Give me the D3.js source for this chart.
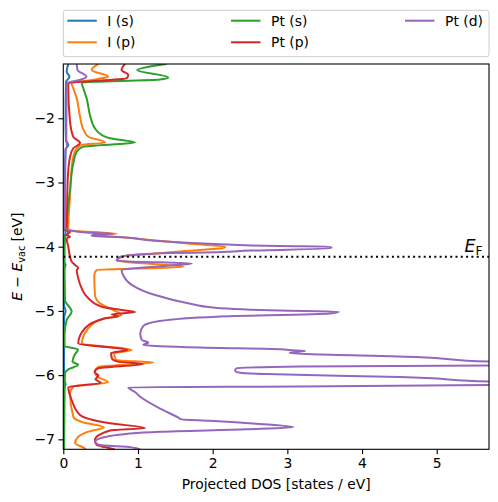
<!DOCTYPE html>
<html><head><meta charset="utf-8">
<script src="https://cdn.jsdelivr.net/npm/d3@7"></script>
<style>body{margin:0;background:#fff}svg{display:block}text{font-family:"DejaVu Sans",sans-serif}</style>
</head><body><svg id="c" width="498" height="502"></svg>
<script>
const seriesNames = ["I (s)", "I (p)", "Pt (s)", "Pt (p)", "Pt (d)"];
const seriesColors = ["#1f77b4", "#ff7f0e", "#2ca02c", "#d62728", "#9467bd"];
const fermiLevel = -4.155;
const xTicks = [0, 1, 2, 3, 4, 5];
const yTicks = [-7, -6, -5, -4, -3, -2];

// each point: [energy (eV), projected DOS (states/eV)]
const iS = [[-1.154,0.067],[-1.274,0.045],[-1.352,0.083],[-1.435,0.036],[-2.03,0.03],[-2.34,0.036],[-2.416,0.067],[-2.49,0.03],[-3.27,0.016],[-3.71,0.016],[-3.77,0.03],[-3.9,0.01],[-4.24,0.01],[-4.28,0.03],[-4.36,0.01],[-4.91,0.01],[-5.0,0.03],[-5.11,0.01],[-6.06,0.01],[-6.14,0.03],[-6.23,0.01],[-7.156,0.01]];
const iP = [[-1.154,0.47],[-1.248,0.38],[-1.352,0.60],[-1.388,0.47],[-1.455,0.11],[-1.533,0.134],[-1.69,0.18],[-1.95,0.22],[-2.18,0.27],[-2.287,0.335],[-2.377,0.56],[-2.416,0.246],[-2.467,0.18],[-2.6,0.134],[-2.805,0.11],[-3.22,0.09],[-3.69,0.067],[-3.74,0.067],[-3.80,0.715],[-3.826,0.40],[-3.85,0.73],[-3.896,1.16],[-3.958,1.74],[-3.997,2.165],[-4.012,2.165],[-4.078,1.52],[-4.103,1.295],[-4.145,0.826],[-4.19,0.736],[-4.215,0.715],[-4.234,0.826],[-4.316,1.606],[-4.363,0.447],[-4.44,0.415],[-4.752,0.424],[-4.88,0.49],[-4.986,0.67],[-5.064,0.78],[-5.09,0.69],[-5.115,0.56],[-5.27,0.335],[-5.505,0.25],[-5.61,0.916],[-5.66,0.68],[-5.765,0.705],[-5.804,1.205],[-5.87,0.47],[-5.947,0.424],[-6.025,0.458],[-6.112,0.60],[-6.18,0.134],[-6.28,0.09],[-6.65,0.134],[-6.73,0.25],[-6.813,0.545],[-6.88,0.335],[-6.96,0.20],[-7.06,0.157],[-7.125,0.268],[-7.156,0.30]];
const ptS = [[-1.154,1.384],[-1.193,1.16],[-1.248,0.99],[-1.364,1.405],[-1.395,1.295],[-1.445,0.246],[-1.533,0.268],[-1.69,0.313],[-1.95,0.357],[-2.156,0.424],[-2.26,0.514],[-2.31,0.625],[-2.377,0.96],[-2.442,0.268],[-2.52,0.18],[-2.70,0.134],[-3.117,0.09],[-3.69,0.045],[-3.787,0.067],[-3.85,0.023],[-4.21,0.016],[-4.83,0.023],[-5.01,0.112],[-5.14,0.045],[-5.37,0.016],[-5.547,0.016],[-5.60,0.197],[-5.686,0.15],[-5.79,0.123],[-5.84,0.20],[-5.91,0.067],[-5.97,0.023],[-6.40,0.016],[-7.156,0.01]];
const ptP = [[-1.154,0.826],[-1.248,0.78],[-1.326,0.87],[-1.377,0.85],[-1.455,0.067],[-1.533,0.067],[-2.053,0.09],[-2.29,0.134],[-2.385,0.224],[-2.467,0.134],[-2.6,0.09],[-2.96,0.059],[-3.69,0.045],[-3.74,0.023],[-3.766,0.09],[-3.818,0.045],[-3.844,0.09],[-3.872,0.045],[-4.0,0.067],[-4.156,0.09],[-4.238,0.116],[-4.285,0.157],[-4.332,0.20],[-4.363,0.18],[-4.49,0.20],[-4.648,0.246],[-4.804,0.335],[-4.935,0.514],[-4.986,0.78],[-5.017,0.96],[-5.053,0.648],[-5.087,0.736],[-5.115,0.56],[-5.27,0.29],[-5.505,0.20],[-5.61,0.86],[-5.656,0.64],[-5.738,0.65],[-5.79,0.73],[-5.827,1.067],[-5.894,0.465],[-5.952,0.418],[-6.006,0.47],[-6.065,0.43],[-6.12,0.505],[-6.19,0.067],[-6.388,0.112],[-6.62,0.224],[-6.75,0.625],[-6.824,1.094],[-6.863,0.625],[-7.01,0.424],[-7.089,0.447],[-7.12,0.558],[-7.156,0.69]];
const ptD = [[-1.154,0.18],[-1.248,0.19],[-1.352,0.31],[-1.403,0.22],[-1.455,0.045],[-1.715,0.043],[-2.338,0.04],[-2.43,0.05],[-2.49,0.03],[-3.27,0.023],[-3.71,0.02],[-3.74,0.067],[-3.787,0.42],[-3.80,0.665],[-3.818,0.38],[-3.833,0.38],[-3.844,0.69],[-3.907,1.23],[-3.958,2.03],[-3.99,2.90],[-4.0,3.59],[-4.025,3.59],[-4.06,2.50],[-4.087,2.05],[-4.10,1.45],[-4.13,0.92],[-4.16,0.76],[-4.22,0.715],[-4.23,0.87],[-4.26,1.72],[-4.30,1.36],[-4.363,0.78],[-4.44,0.80],[-4.597,0.92],[-4.753,1.23],[-4.88,1.67],[-4.95,2.03],[-4.994,2.90],[-5.012,3.69],[-5.04,3.57],[-5.09,2.05],[-5.157,1.29],[-5.235,1.07],[-5.35,1.03],[-5.45,1.05],[-5.495,1.14],[-5.53,1.07],[-5.57,1.83],[-5.60,2.97],[-5.61,3.02],[-5.625,3.24],[-5.655,3.03],[-5.72,4.78],[-5.79,5.71],[-5.82,6.65],[-5.85,5.71],[-5.865,3.17],[-5.894,2.32],[-5.93,2.30],[-5.963,2.37],[-5.984,2.72],[-6.03,4.51],[-6.10,5.71],[-6.13,6.65],[-6.154,5.71],[-6.178,3.17],[-6.19,0.87],[-6.263,0.96],[-6.337,1.03],[-6.517,1.29],[-6.657,1.535],[-6.689,1.585],[-6.71,1.96],[-6.76,2.63],[-6.813,3.08],[-6.844,2.455],[-6.882,1.295],[-6.949,0.625],[-7.037,0.425],[-7.089,0.49],[-7.125,0.915],[-7.156,1.03]];
const seriesData = [iS, iP, ptS, ptP, ptD];

const svg = d3.select("#c");
const L = 63.3, R = 489, T = 64, B = 449.3;
const x = d3.scaleLinear().domain([0, 5.7]).range([L, R]);
const y = d3.scaleLinear().domain([fermiLevel - 3, fermiLevel + 3]).range([B, T]);

svg.append("defs").append("clipPath").attr("id", "clip")
  .append("rect").attr("x", L).attr("y", T).attr("width", R - L).attr("height", B - T);

const line = d3.line().x(d => x(d[1])).y(d => y(d[0])).curve(d3.curveMonotoneY);
const g = svg.append("g").attr("clip-path", "url(#clip)");
seriesData.forEach((s, i) => {
  g.append("path").attr("d", line(s)).attr("fill", "none")
    .attr("stroke", seriesColors[i]).attr("stroke-width", 2).attr("stroke-linejoin", "round");
});

// Fermi level
g.append("line").attr("x1", x(0)).attr("x2", R).attr("y1", y(fermiLevel)).attr("y2", y(fermiLevel))
  .attr("stroke", "#000").attr("stroke-width", 2).attr("stroke-dasharray", "2,3.3");
const ef = svg.append("text").attr("x", 464.5).attr("y", y(fermiLevel) - 4.5).attr("font-size", 17.5);
ef.append("tspan").attr("font-style", "italic").text("E");
ef.append("tspan").attr("font-size", 12.5).attr("dy", 2.5).text("F");

// axes
const fmt = d => (d < 0 ? "\u2212" + Math.abs(d) : String(d));
const xa = svg.append("g").attr("transform", `translate(0,${B})`)
  .call(d3.axisBottom(x).tickValues(xTicks).tickFormat(fmt).tickSize(4.9).tickPadding(3.5));
const ya = svg.append("g").attr("transform", `translate(${L},0)`)
  .call(d3.axisLeft(y).tickValues(yTicks).tickFormat(fmt).tickSize(4.9).tickPadding(3.5));
[xa, ya].forEach(a => {
  a.select(".domain").remove();
  a.selectAll("text").attr("font-size", 13.9).attr("fill", "#000").attr("font-family", "DejaVu Sans");
  a.selectAll("line").attr("stroke", "#000").attr("stroke-width", 1.1);
});
svg.append("rect").attr("x", L).attr("y", T).attr("width", R - L).attr("height", B - T)
  .attr("fill", "none").attr("stroke", "#000").attr("stroke-width", 1.1);

svg.append("text").attr("x", (L + R) / 2).attr("y", 489).attr("text-anchor", "middle")
  .attr("font-size", 13.9).text("Projected DOS [states / eV]");
const yl = svg.append("text").attr("transform", `translate(22,${(T + B) / 2}) rotate(-90)`)
  .attr("text-anchor", "middle").attr("font-size", 13.9);
yl.append("tspan").attr("font-style", "italic").text("E");
yl.append("tspan").text(" \u2212 ");
yl.append("tspan").attr("font-style", "italic").text("E");
yl.append("tspan").attr("font-size", 9.7).attr("dy", 2.5).text("vac");
yl.append("tspan").attr("dy", -2.5).text(" [eV]");

// legend
svg.append("rect").attr("x", L).attr("y", 10.3).attr("width", R - L).attr("height", 46.4)
  .attr("rx", 2.5).attr("fill", "#fff").attr("fill-opacity", 0.8).attr("stroke", "#cccccc").attr("stroke-width", 1);
const legPos = [[67.3, 20.7], [67.3, 42.3], [231, 20.7], [231, 42.3], [405, 20.7]];
seriesNames.forEach((n, i) => {
  const [lx, ly] = legPos[i];
  svg.append("line").attr("x1", lx).attr("x2", lx + 29.5).attr("y1", ly).attr("y2", ly)
    .attr("stroke", seriesColors[i]).attr("stroke-width", 2);
  svg.append("text").attr("x", lx + 40).attr("y", ly + 5).attr("font-size", 13.9).text(n);
});
</script></body></html>
